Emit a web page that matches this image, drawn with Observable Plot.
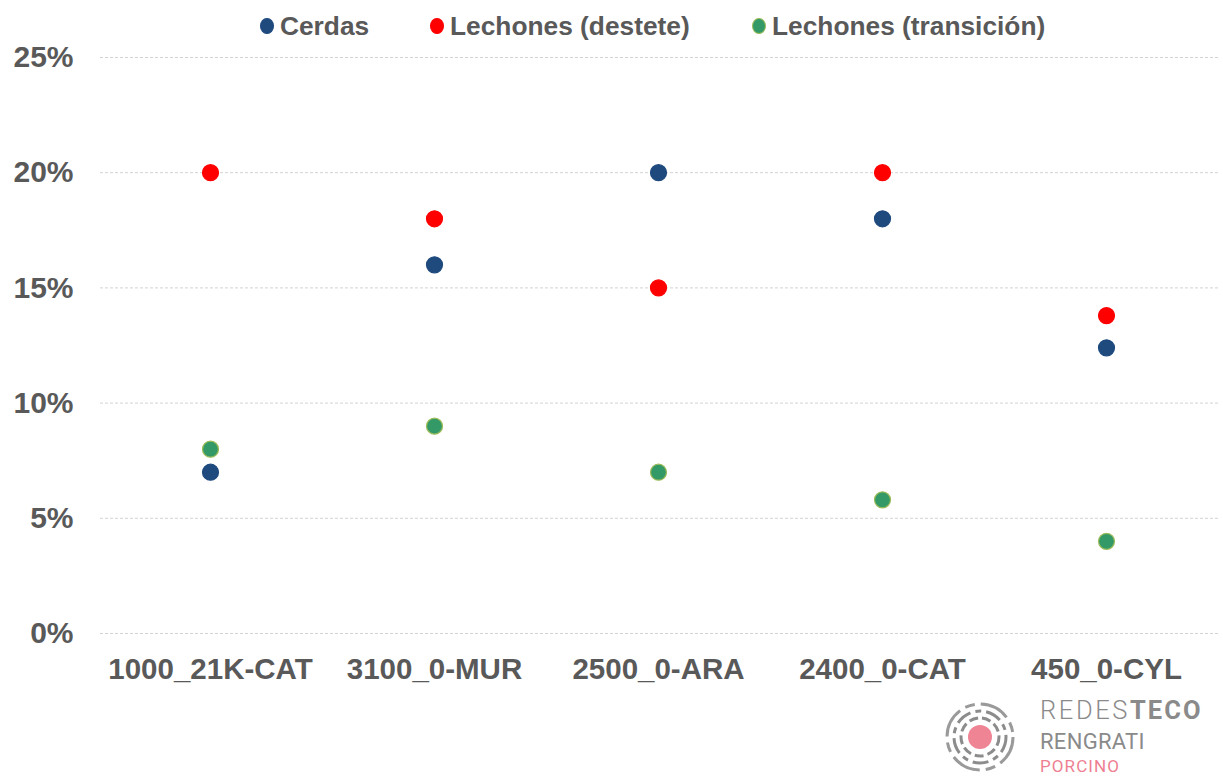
<!DOCTYPE html>
<html>
<head>
<meta charset="utf-8">
<script src="https://cdn.jsdelivr.net/npm/d3@7"></script>
<script src="https://cdn.jsdelivr.net/npm/@observablehq/plot@0.6"></script>
<style>
  html, body { margin: 0; padding: 0; background: #fff; }
  #wrap { position: relative; width: 1223px; height: 776px; overflow: hidden; font-family: "Liberation Sans", Arial, sans-serif; }
  #legend { position: absolute; top: 0; left: 0; width: 1223px; height: 50px; font-weight: bold; font-size: 26.3px; color: #595959; }
  #legend .item { position: absolute; top: 11px; display: flex; align-items: center; line-height: 30px; white-space: nowrap; }
  #legend .sw { width: 14px; height: 16px; border-radius: 50%; margin-right: 6px; box-sizing: border-box; }
  #logo { position: absolute; left: 938px; top: 696px; width: 285px; height: 80px; }
  #logo .t { position: absolute; left: 102px; white-space: nowrap; font-family: Roboto, "Liberation Sans", sans-serif; }
  #logo .t1 { top: 0px; font-size: 25.5px; line-height: 29px; color: #8a8a8a; font-weight: 300; letter-spacing: 2.6px; }
  #logo .t1 b { font-weight: 700; letter-spacing: 2px; }
  #logo .t2 { top: 33px; font-size: 22px; line-height: 25px; color: #8a8a8a; font-weight: 400; letter-spacing: 0.3px; }
  #logo .t3 { top: 61px; font-size: 17px; line-height: 19px; color: #ee7f92; font-weight: 400; letter-spacing: 1.1px; }
</style>
</head>
<body>
<div id="wrap">
  <div id="chart"></div>
  <div id="legend"></div>
  <div id="logo">
    <svg width="90" height="80" style="position:absolute;left:0;top:0">
      <circle cx="42" cy="41" r="12" fill="#ef8495"/>
      <circle cx="42" cy="41" r="19" fill="none" stroke="#8c8c8c" stroke-width="3" stroke-dasharray="9 4"/>
      <circle cx="42" cy="41" r="26" fill="none" stroke="#8c8c8c" stroke-width="3" stroke-dasharray="16 5 6 5"/>
      <circle cx="42" cy="41" r="33" fill="none" stroke="#9a9a9a" stroke-width="3" stroke-dasharray="30 6 10 6"/>
    </svg>
    <div class="t t1">REDES<b>TECO</b></div>
    <div class="t t2">RENGRATI</div>
    <div class="t t3">PORCINO</div>
  </div>
</div>
<script>
const categories = ["1000_21K-CAT", "3100_0-MUR", "2500_0-ARA", "2400_0-CAT", "450_0-CYL"];
const seriesNames = ["Cerdas", "Lechones (destete)", "Lechones (transición)"];
const cerdas = [0.07, 0.16, 0.20, 0.18, 0.124];
const lechonesDestete = [0.20, 0.18, 0.15, 0.20, 0.138];
const lechonesTransicion = [0.08, 0.09, 0.07, 0.058, 0.04];
const yTicks = [0, 0.05, 0.10, 0.15, 0.20, 0.25];
const fills = ["#1f4a7e", "#ff0000", "#339966"];
const strokes = ["#1f4a7e", "#ff0000", "#9bbb59"];

const seriesValues = [cerdas, lechonesDestete, lechonesTransicion];
const data = [];
seriesValues.forEach((vals, si) => {
  vals.forEach((v, i) => data.push({cat: categories[i], series: seriesNames[si], value: v}));
});

const chart = Plot.plot({
  width: 1223,
  height: 776,
  marginTop: 57,
  marginBottom: 143,
  marginLeft: 97,
  marginRight: 5,
  style: {fontFamily: "'Liberation Sans', Arial, sans-serif", background: "#fff", overflow: "visible"},
  x: {type: "point", domain: categories, padding: 0.5, label: null, tickSize: 0},
  y: {domain: [0, 0.25], label: null},
  color: {domain: seriesNames, range: fills},
  marks: [
    Plot.ruleY(yTicks, {stroke: "#d3d3d3", strokeWidth: 1, strokeDasharray: "3,2", insetLeft: 3}),
    Plot.axisY({ticks: yTicks, tickSize: 0, tickPadding: 24, tickFormat: d3.format(".0%"), label: null,
      fontSize: 30, fontWeight: "bold", fill: "#595959"}),
    Plot.axisX({tickSize: 0, tickPadding: 25, label: null, fontSize: 29.5, fontWeight: "bold", fill: "#595959"}),
    Plot.dot(data, {x: "cat", y: "value", r: 8, fill: "series",
      stroke: d => strokes[seriesNames.indexOf(d.series)], strokeWidth: 1.2})
  ]
});
document.getElementById("chart").appendChild(chart);

const legend = document.getElementById("legend");
const legendLeft = [260, 430, 752];
seriesNames.forEach((name, i) => {
  const item = document.createElement("div");
  item.className = "item";
  item.style.left = legendLeft[i] + "px";
  const sw = document.createElement("span");
  sw.className = "sw";
  sw.style.background = fills[i];
  sw.style.border = "1px solid " + strokes[i];
  const label = document.createElement("span");
  label.textContent = name;
  item.appendChild(sw);
  item.appendChild(label);
  legend.appendChild(item);
});
</script>
</body>
</html>
